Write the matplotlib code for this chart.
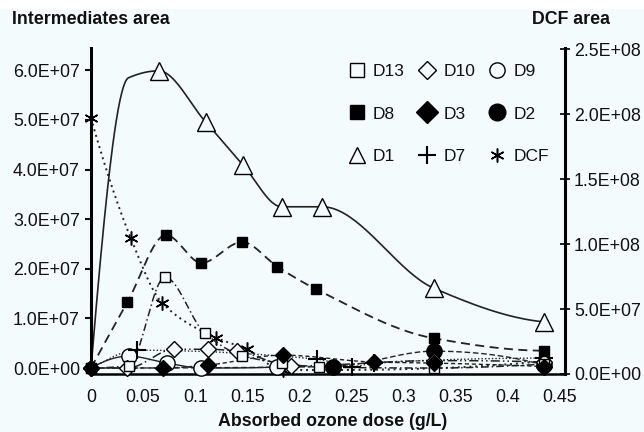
import numpy as np
import matplotlib
matplotlib.use("Agg")
import matplotlib.pyplot as plt
from matplotlib.lines import Line2D
from matplotlib.ticker import FuncFormatter
from matplotlib.patches import Rectangle

plt.rcParams['font.family'] = ['Liberation Sans', 'DejaVu Sans']

# ---------------- data ----------------
# Intermediates (left axis)
d1_x = [0, 0.036, 0.065, 0.110, 0.146, 0.183, 0.222, 0.329, 0.435]
d1_y = [0, 5.85e7, 5.99e7, 4.96e7, 4.09e7, 3.25e7, 3.25e7, 1.61e7, 0.93e7]
d1_marked = [2, 3, 4, 5, 6, 7, 8]

d8_x = [0, 0.035, 0.072, 0.106, 0.145, 0.179, 0.216, 0.329, 0.435]
d8_y = [0, 1.33e7, 2.68e7, 2.12e7, 2.54e7, 2.04e7, 1.59e7, 0.60e7, 0.35e7]

d13_x = [0, 0.036, 0.071, 0.109, 0.145, 0.183, 0.219, 0.329, 0.435]
d13_y = [0, 0.05e7, 1.83e7, 0.71e7, 0.25e7, 0.10e7, 0.02e7, 0.0, 0.08e7]

d10_x = [0, 0.035, 0.080, 0.112, 0.140, 0.192, 0.329, 0.435]
d10_y = [0, 0.0, 0.38e7, 0.38e7, 0.34e7, 0.04e7, 0.15e7, 0.12e7]

d9_x = [0, 0.036, 0.073, 0.106, 0.179]
d9_y = [0, 0.24e7, 0.10e7, 0.0, 0.02e7]
d9_marked = [1, 2, 3, 4]

d3_x = [0, 0.069, 0.112, 0.184, 0.272, 0.329, 0.435]
d3_y = [0, 0.0, 0.06e7, 0.26e7, 0.12e7, 0.10e7, 0.03e7]

d2_x = [0, 0.232, 0.329, 0.435]
d2_y = [0, 0.03e7, 0.34e7, 0.06e7]
d2_marked = [1, 2, 3]

d7_x = [0, 0.044, 0.217, 0.251, 0.272, 0.435]
d7_y = [0, 0.36e7, 0.18e7, 0.03e7, 0.10e7, 0.20e7]
d7_marked = [1, 2, 3, 4, 5]

# Parent compound (right axis)
dcf_x = [0, 0.038, 0.068, 0.120, 0.150, 0.184, 0.435]
dcf_y = [1.97e8, 1.05e8, 0.55e8, 0.28e8, 0.19e8, 0.03e8, 0.10e8]

x_ticks = [0, 0.05, 0.1, 0.15, 0.2, 0.25, 0.3, 0.35, 0.4, 0.45]
left_ticks = [0, 1e7, 2e7, 3e7, 4e7, 5e7, 6e7]
right_ticks = [0, 5e7, 1e8, 1.5e8, 2e8, 2.5e8]

# ---------------- helpers ----------------
def pchip(x, y, n=40):
    x = np.asarray(x, float)
    y = np.asarray(y, float)
    if len(x) < 3:
        return x, y
    h = np.diff(x)
    d = np.diff(y) / h
    m = np.zeros_like(y)
    for k in range(1, len(x) - 1):
        if d[k - 1] * d[k] <= 0:
            m[k] = 0.0
        else:
            w1 = 2 * h[k] + h[k - 1]
            w2 = h[k] + 2 * h[k - 1]
            m[k] = (w1 + w2) / (w1 / d[k - 1] + w2 / d[k])

    def end(h0, h1, d0, d1):
        mm = ((2 * h0 + h1) * d0 - h0 * d1) / (h0 + h1)
        if np.sign(mm) != np.sign(d0):
            mm = 0.0
        elif np.sign(d0) != np.sign(d1) and abs(mm) > abs(3 * d0):
            mm = 3 * d0
        return mm

    m[0] = end(h[0], h[1], d[0], d[1])
    m[-1] = end(h[-1], h[-2], d[-1], d[-2])
    xs, ys = [], []
    for k in range(len(x) - 1):
        t = np.linspace(0, 1, n, endpoint=(k == len(x) - 2))
        h00 = 2 * t**3 - 3 * t**2 + 1
        h10 = t**3 - 2 * t**2 + t
        h01 = -2 * t**3 + 3 * t**2
        h11 = t**3 - t**2
        xs.append(x[k] + t * h[k])
        ys.append(h00 * y[k] + h10 * h[k] * m[k] + h01 * y[k + 1] + h11 * h[k] * m[k + 1])
    return np.concatenate(xs), np.concatenate(ys)


BG = '#f4fbfd'
LC = '#222222'

fig = plt.figure(figsize=(6.44, 4.32), dpi=100, facecolor=BG)
fig.patches.append(Rectangle((0, 1 - 9 / 432), 1, 9 / 432, transform=fig.transFigure,
                             facecolor='white', edgecolor='none', zorder=-5))
ax = fig.add_axes([91 / 644, 1 - 374 / 432, 474 / 644, 326 / 432])
ax.set_facecolor(BG)
ax2 = ax.twinx()
ax2.set_zorder(ax.get_zorder() - 1)
ax.patch.set_visible(False)
ax2.patch.set_facecolor(BG)

styles = {
    'D13': dict(marker='s', ms=7, mfc=BG, mec='black', mew=1.0, ls=(0, (5, 2, 1, 2)), lw=1.1),
    'D10': dict(marker='D', ms=8, mfc=BG, mec='black', mew=1.0, ls=(0, (6, 2, 1, 2, 1, 2)), lw=1.1),
    'D9': dict(marker='o', ms=11, mfc=BG, mec='black', mew=1.0, ls='-', lw=1.0),
    'D8': dict(marker='s', ms=6.5, mfc='black', mec='black', mew=1.0, ls=(0, (5, 3)), lw=1.3),
    'D3': dict(marker='D', ms=8, mfc='black', mec='black', mew=1.0, ls=(0, (3, 2)), lw=1.0),
    'D2': dict(marker='o', ms=11, mfc='black', mec='black', mew=1.0, ls=(0, (4, 2)), lw=1.0),
    'D1': dict(marker='^', ms=13, mfc=BG, mec='black', mew=1.0, ls='-', lw=1.2),
    'D7': dict(marker='+', ms=13, mfc='black', mec='black', mew=1.5, ls=(0, (1, 1.5)), lw=1.0),
    'DCF': dict(marker=(6, 2, 0), ms=10, mfc='black', mec='black', mew=1.1, ls=(0, (1, 2)), lw=1.4),
}

series = [
    ('D9', d9_x, d9_y, ax, d9_marked, 3),
    ('D2', d2_x, d2_y, ax, d2_marked, 3),
    ('D7', d7_x, d7_y, ax, d7_marked, 3),
    ('D10', d10_x, d10_y, ax, None, 3),
    ('D13', d13_x, d13_y, ax, None, 3),
    ('D8', d8_x, d8_y, ax, None, 3),
    ('D3', d3_x, d3_y, ax, None, 4),
    ('D1', d1_x, d1_y, ax, d1_marked, 3),
    ('DCF', dcf_x, dcf_y, ax2, None, 3),
]

for name, xs, ys, a, marked, zo in series:
    st = styles[name]
    sx, sy = pchip(xs, ys)
    a.plot(sx, sy, color=LC, ls=st['ls'], lw=st['lw'], zorder=2, clip_on=False)
    idx = marked if marked is not None else list(range(len(xs)))
    mx = [xs[i] for i in idx]
    my = [ys[i] for i in idx]
    a.plot(mx, my, ls='none', marker=st['marker'], ms=st['ms'], mfc=st['mfc'],
           mec=st['mec'], mew=st['mew'], zorder=zo, clip_on=False)

# axes limits & ticks
ax.set_xlim(0, 0.455)
ax.set_ylim(-0.12e7, 6.45e7)
ax2.set_ylim(0, 2.51e8)
ax.set_xticks(x_ticks)
ax.set_yticks(left_ticks)
ax2.set_yticks(right_ticks)
ax.xaxis.set_major_formatter(FuncFormatter(lambda v, p: f'{v:g}'))
ax.yaxis.set_major_formatter(FuncFormatter(lambda v, p: f'{v:.1E}'))
ax2.yaxis.set_major_formatter(FuncFormatter(lambda v, p: f'{v:.1E}'))

for s in ['top', 'right']:
    ax.spines[s].set_visible(False)
for s in ['top', 'left', 'bottom']:
    ax2.spines[s].set_visible(False)
ax.spines['left'].set_linewidth(2.2)
ax.spines['bottom'].set_linewidth(1.8)
ax2.spines['right'].set_linewidth(2.2)

FS = 12.8
ax.tick_params(axis='y', direction='out', length=4, width=1.5, labelsize=FS, pad=4, colors='#111111')
ax.tick_params(axis='x', length=0, labelsize=FS, pad=11, colors='#111111')
ax2.tick_params(axis='y', direction='inout', length=7, width=1.3, labelsize=FS, pad=3, colors='#111111')

fig.text(12 / 644, 1 - 20 / 432, 'Intermediates area', fontsize=12.8, fontweight='bold',
         ha='left', va='center', color='#111111')
fig.text(610 / 644, 1 - 20 / 432, 'DCF area', fontsize=12.8, fontweight='bold',
         ha='right', va='center', color='#111111')
fig.text(333 / 644, 1 - 422 / 432, 'Absorbed ozone dose (g/L)', fontsize=12.8, fontweight='bold',
         ha='center', va='center', color='#111111')

# legend
order = ['D13', 'D8', 'D1', 'D10', 'D3', 'D7', 'D9', 'D2', 'DCF']
leg_sizes = {'D13': 9.5, 'D8': 9.5, 'D1': 11, 'D10': 9.5, 'D3': 11, 'D7': 13,
             'D9': 11, 'D2': 12, 'DCF': 10}
handles = []
for name in order:
    st = styles[name]
    handles.append(Line2D([], [], ls='none', marker=st['marker'], ms=leg_sizes[name],
                          mfc=st['mfc'], mec=st['mec'], mew=st['mew']))
leg = ax.legend(handles, order, ncol=3, loc='upper left', bbox_to_anchor=(0.542, 0.95),
                frameon=False, fontsize=12.5, handlelength=1.0, handletextpad=0.45,
                columnspacing=0.75, labelspacing=1.55, borderpad=0, borderaxespad=0)
for t in leg.get_texts():
    t.set_color('#111111')

fig.savefig('out.png', dpi=100, facecolor=BG)
